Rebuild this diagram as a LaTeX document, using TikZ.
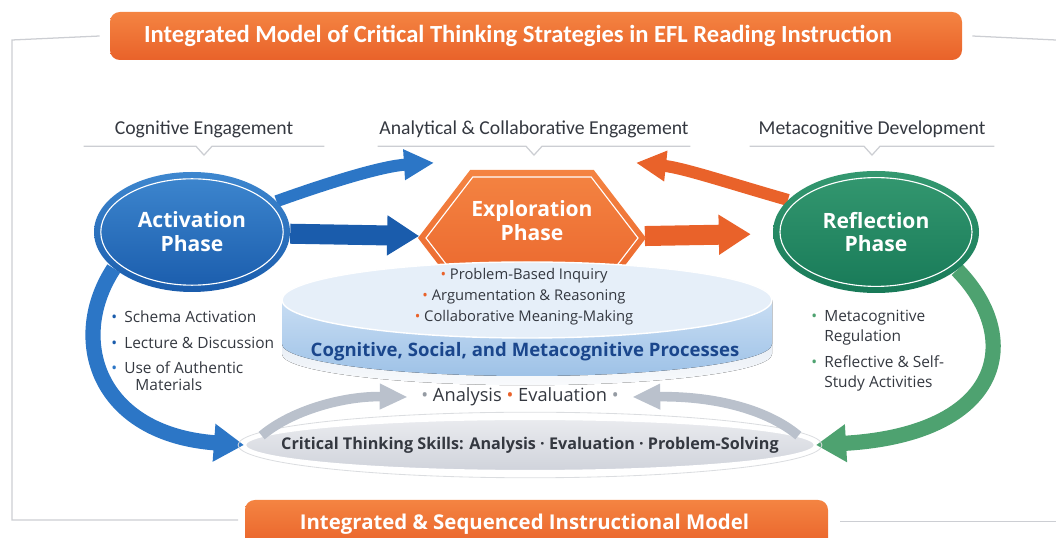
\documentclass[tikz,border=0pt]{standalone}
\usepackage{fontspec}
\setmainfont{Open Sans}
\newfontfamily\condfont{Carlito}
\definecolor{accent}{RGB}{233,98,42}
\definecolor{accentlight}{RGB}{244,132,66}
\definecolor{actblue}{RGB}{26,92,172}
\definecolor{actlight}{RGB}{62,135,207}
\definecolor{arcblue}{RGB}{44,118,198}
\definecolor{refgreen}{RGB}{24,122,88}
\definecolor{reflight}{RGB}{52,152,112}
\definecolor{arcgreen}{RGB}{78,162,112}
\definecolor{cyltop}{RGB}{230,239,249}
\definecolor{cylside}{RGB}{158,194,231}
\definecolor{cylsidelight}{RGB}{200,221,243}
\definecolor{cylrim}{RGB}{214,224,237}
\definecolor{skillgray}{RGB}{186,193,204}
\definecolor{skillfill}{RGB}{208,211,219}
\definecolor{ink}{RGB}{52,56,64}
\definecolor{procblue}{RGB}{26,70,140}
\definecolor{rule}{RGB}{204,206,211}
\usetikzlibrary{shapes.geometric, shapes.symbols, arrows.meta, backgrounds}
\newcommand{\itemdot}[1]{\makebox[0pt][r]{\textcolor{#1}{\textbullet}\hspace{0.18cm}}}
\tikzset{
    banner/.style={
        rectangle,
        rounded corners=7pt,
        top color=accentlight,
        bottom color=accent,
        text=white,
        align=center
    },
    phasetext/.style={
        align=center,
        text=white,
        font=\bfseries\fontsize{15}{17}\selectfont
    },
    phase/.style={
        ellipse,
        minimum width=4.9cm,
        minimum height=3cm,
        inner sep=0pt,
        phasetext
    },
    hexphase/.style={
        signal,
        signal to=west and east,
        signal pointer angle=105,
        inner sep=0pt
    },
    header/.style={
        minimum height=0.85cm,
        inner sep=0pt,
        text=ink,
        font=\condfont\fontsize{14}{16}\selectfont
    },
    hdrline/.style={draw=rule, line width=0.9pt},
    item/.style={anchor=west, align=left, inner sep=0pt, text=ink, font=\fontsize{11}{14}\selectfont},
    flowarrow/.style={-{Triangle[length=0.8cm, width=0.95cm]}, line width=0.5cm},
    looparrow/.style={-{Triangle[length=0.75cm, width=0.72cm]}, line width=0.3cm},
    sidearrow/.style={-{Triangle[length=0.75cm, width=0.9cm]}, line width=0.38cm},
    skillarrow/.style={-{Triangle[length=0.7cm, width=0.6cm]}, line width=0.24cm, color=skillgray}
}

\begin{document}
\begin{tikzpicture}
  \useasboundingbox (0,0) rectangle (26.4,13.45);

  % banners
  \node[banner, minimum width=21.3cm, minimum height=1.2cm, font=\condfont\bfseries\fontsize{17.5}{19}\selectfont] (title) at (13.4,12.55) {\hspace*{-0.9cm}Integrated Model of Critical Thinking Strategies in EFL Reading Instruction};
  \node[banner, minimum width=14.575cm, minimum height=1.2cm, font=\bfseries\fontsize{14.5}{16}\selectfont] (footer) at (13.4125,0.35) {\hspace*{-0.6cm}Integrated \& Sequenced Instructional Model};

  % frame rules
  \draw[hdrline] ([xshift=-0.25cm]title.west) -- (0.3,12.45) -- (0.3,0.45) -- (5.95,0.45);
  \draw[hdrline] ([xshift=0.25cm]title.east) -- (26.4,12.45);
  \draw[hdrline] (21.0,0.42) -- (26.4,0.42);

  % column headers
  \node[header, minimum width=6cm] (hcog) at (5.1,10.225) {Cognitive Engagement};
  \node[header, minimum width=7.8cm] (hana) at (13.35,10.225) {Analytical \& Collaborative Engagement};
  \node[header, minimum width=6.1cm] (hmeta) at (21.8,10.225) {Metacognitive Development};
  \draw[hdrline] (hcog.south west) -- ([xshift=-0.2cm]hcog.south) -- ([yshift=-0.22cm]hcog.south) -- ([xshift=0.2cm]hcog.south) -- (hcog.south east);
  \draw[hdrline] (hana.south west) -- ([xshift=-0.2cm]hana.south) -- ([yshift=-0.22cm]hana.south) -- ([xshift=0.2cm]hana.south) -- (hana.south east);
  \draw[hdrline] (hmeta.south west) -- ([xshift=-0.2cm]hmeta.south) -- ([yshift=-0.22cm]hmeta.south) -- ([xshift=0.2cm]hmeta.south) -- (hmeta.south east);

  % the three phases
  \node[phase, top color=actlight, bottom color=actblue] (act) at (4.8,7.65) {Activation\\Phase};
  \draw[white, line width=0.8pt] (act.center) ellipse [x radius=2.28cm, y radius=1.33cm];
  \node[hexphase, minimum width=5.7cm, minimum height=3.4cm, top color=accentlight, bottom color=accent] (exp) at (13.3,7.5) {};
  \node[hexphase, minimum width=5.3cm, minimum height=3.05cm, draw=white, line width=0.8pt] (exp-rim) at (exp.center) {};
  \node[phasetext] (exp-label) at (13.3,7.925) {Exploration\\Phase};
  \node[phase, minimum width=5.15cm, minimum height=3.05cm, top color=reflight, bottom color=refgreen] (ref) at (21.9,7.65) {Reflection\\Phase};
  \draw[white, line width=0.8pt] (ref.center) ellipse [x radius=2.4cm, y radius=1.36cm];

  % process platform
  \coordinate (cyl) at (13.175,5.95);
  \fill[top color=cylrim, bottom color=white!85!cylrim] (7.05,5.95) -- (7.05,4.6) arc[start angle=180, end angle=360, x radius=6.125, y radius=0.78] -- (19.3,5.95) -- cycle;
  \fill[top color=cylsidelight, bottom color=cylside] (7.05,5.95) -- (7.05,4.85) arc[start angle=180, end angle=360, x radius=6.125, y radius=0.8] -- (19.3,5.95) -- cycle;
  \draw[white, line width=1pt, fill=cyltop] (cyl) ellipse [x radius=6.125, y radius=0.95];
  \node[align=center, text=ink, font=\fontsize{10.5}{15}\selectfont] (procs) at (13.1,6.03) {\textcolor{accent}{\textbullet} Problem-Based Inquiry\\\textcolor{accent}{\textbullet} Argumentation \& Reasoning\\\textcolor{accent}{\textbullet} Collaborative Meaning-Making};
  \node[text=procblue, font=\bfseries\fontsize{13.2}{15}\selectfont] (proclabel) at (13.125,4.65) {Cognitive, Social, and Metacognitive Processes};

  % skills
  \node[minimum width=5.6cm, text=ink, font=\fontsize{13}{15}\selectfont] (ae) at (13.0,3.525) {\textcolor{skillgray!80!black}{\textbullet} Analysis \textcolor{accent}{\textbullet} Evaluation \textcolor{skillgray!80!black}{\textbullet}};
  \node[ellipse, inner xsep=-3cm, inner ysep=0pt, minimum width=14.25cm, minimum height=1.3cm, top color=white!55!skillfill, bottom color=skillfill, draw=white, line width=1.5pt, text=ink, font=\bfseries\fontsize{11.5}{13}\selectfont] (crit) at (13.25,2.325) {Critical Thinking Skills: Analysis · Evaluation · Problem-Solving};
  \draw[rule!70, line width=0.6pt] (crit.center) ellipse [x radius=7.3cm, y radius=0.82cm];

  % strategy lists
  \node[item] (sa) at (3.1,5.525) {\itemdot{actblue}Schema Activation};
  \node[item] (ld) at (3.1,4.875) {\itemdot{actblue}Lecture \& Discussion};
  \node[item, font=\fontsize{11}{12}\selectfont] (ua) at (3.1,4.05) {\itemdot{arcblue}Use of Authentic\\\hspace{0.28cm}Materials};
  \node[item] (mr) at (20.6,5.25) {\itemdot{arcgreen}Metacognitive\\Regulation};
  \node[item] (rs) at (20.6,4.11) {\itemdot{arcgreen}Reflective \& Self-\\Study Activities};

  % connectors
  \coordinate (act-out) at (10.85,9.38);
  \coordinate (ref-out) at (15.9,9.38);
  \begin{scope}[on background layer]
    \draw[flowarrow, actblue] (act) -- (exp);
    \draw[flowarrow, accent, shorten >=0.55cm] (exp) -- (ref);
    \draw[looparrow, arcblue] (act.20) .. controls (8.4,8.95) and (9.6,9.3) .. (act-out);
    \draw[looparrow, accent] (ref.160) .. controls (18.3,8.85) and (17.1,9.25) .. (ref-out);
    \draw[sidearrow, arcblue] (act.205) .. controls (1.7,5.0) and (2.4,2.6) .. (crit.west);
    \draw[sidearrow, arcgreen] (ref.335) .. controls (25.6,5.0) and (25.1,2.6) .. (crit.east);
  \end{scope}
  \draw[skillarrow] (crit.178) .. controls (7.3,3.2) and (8.6,3.55) .. (ae.west);
  \draw[skillarrow] (crit.2) .. controls (19.2,3.2) and (17.9,3.55) .. (ae.east);
\end{tikzpicture}
\end{document}
